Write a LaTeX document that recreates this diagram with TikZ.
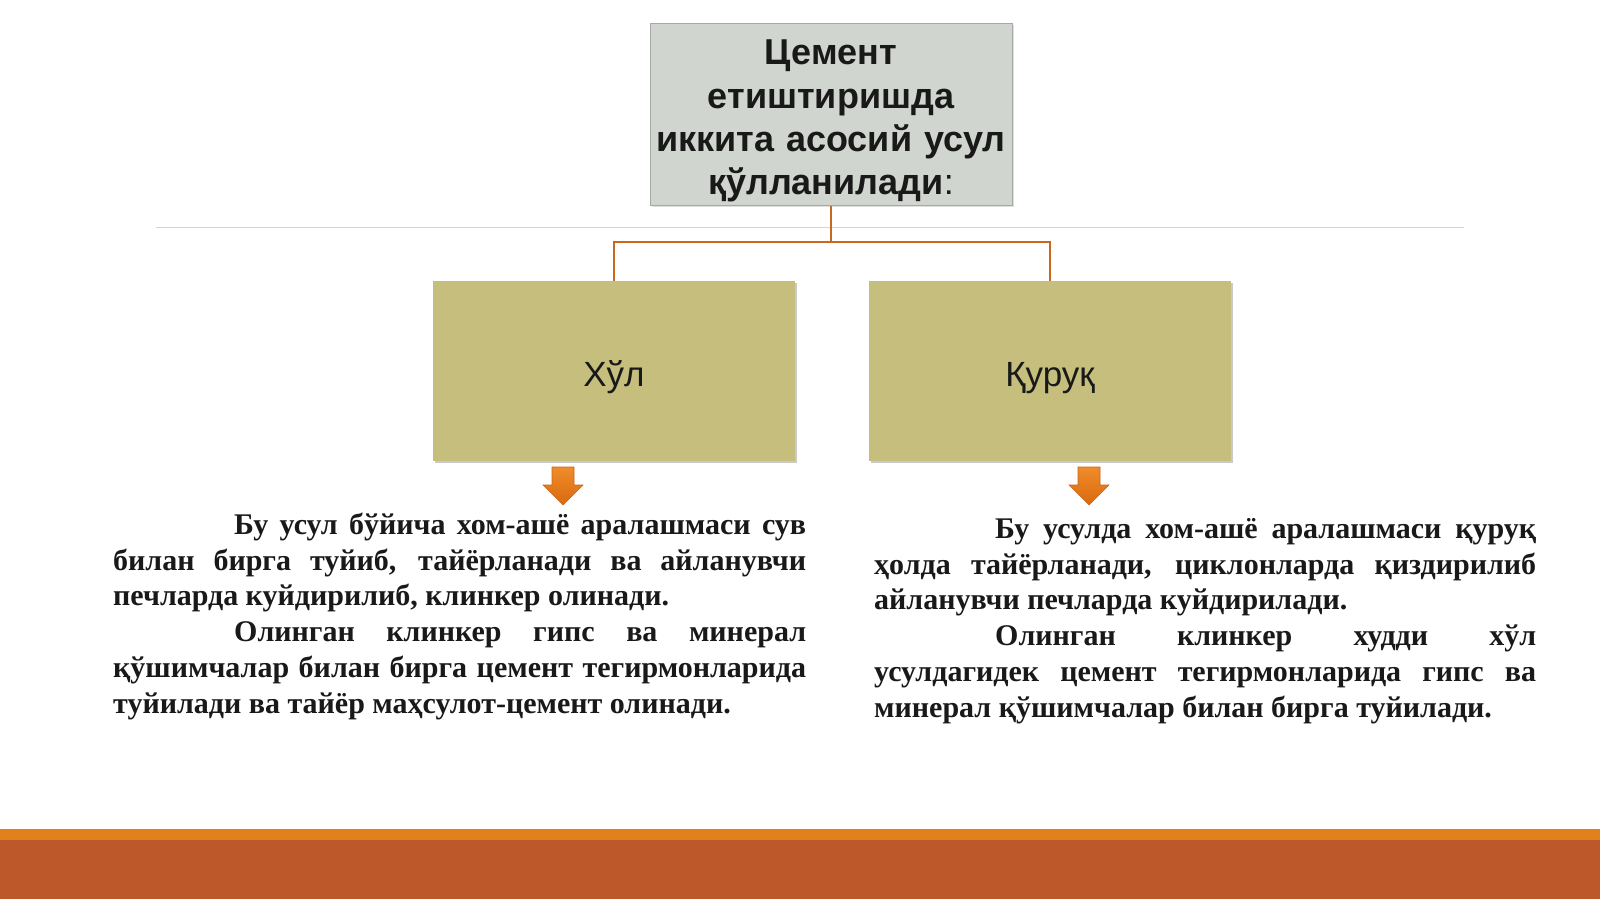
\documentclass[tikz,border=0pt]{standalone}
\usepackage{fontspec}
\setmainfont{Liberation Serif}
\newfontfamily\headfont{Liberation Sans}
\usetikzlibrary{shadows}
\definecolor{topfill}{HTML}{D1D5CF}
\definecolor{topdraw}{HTML}{A8A8A8}
\definecolor{olivebox}{HTML}{C5BE7C}
\definecolor{conn}{HTML}{C8691F}
\definecolor{arrowtop}{HTML}{F08C2A}
\definecolor{arrowbot}{HTML}{D9690F}
\definecolor{arrowdraw}{HTML}{C9651A}
\definecolor{rust}{HTML}{BC582A}
\definecolor{stripe}{HTML}{E2801C}
\definecolor{hline}{HTML}{D4D4D4}
\begin{document}
\begin{tikzpicture}[x=1bp,y=-1bp,
  titlebox/.style={draw=topdraw, line width=1bp, fill=topfill, minimum width=362bp, minimum height=181bp, inner sep=0pt, text width=362bp, align=center, text height=0bp, text depth=99bp, text=black!90, font=\headfont\bfseries\fontsize{36bp}{43.3bp}\selectfont, drop shadow={shadow xshift=1.5bp, shadow yshift=-1.5bp, opacity=0.25, fill=black!50}},
  methodbox/.style={fill=olivebox, minimum width=362bp, minimum height=180bp, inner sep=0pt, text height=30bp, text depth=0bp, text=black!90, font=\headfont\fontsize{35bp}{42bp}\selectfont, drop shadow={shadow xshift=2bp, shadow yshift=-2bp, opacity=0.35, fill=black!60}},
  connector/.style={draw=conn, line width=2bp},
  bodytext/.style={anchor=base west, inner sep=0pt, align=justify, text=black!90, font=\bfseries\fontsize{30bp}{35.7bp}\selectfont},
  orangearrow/.pic={\shadedraw[top color=arrowtop, bottom color=arrowbot, draw=arrowdraw, line width=0.6bp] (-11,0) -- (11,0) -- (11,18) -- (20,18) -- (0,38) -- (-20,18) -- (-11,18) -- cycle;}]
\useasboundingbox (0,0) rectangle (1600,899);
\fill[white] (0,0) rectangle (1600,899);
% separator line
\draw[hline, line width=1bp] (156,227) -- (1464,227);
% nodes
\node[titlebox] (title) at (831,114.5) {Цемент\\етиштиришда\\иккита асосий усул\\қўлланилади{\mdseries:}};
\node[methodbox] (wet) at (614,371) {Хўл};
\node[methodbox] (dry) at (1050,371) {Қуруқ};
% connectors
\draw[connector] (title.south) -- ++(0,36) -| (wet.north);
\draw[connector] (title.south) ++(0,36) -| (dry.north);
% arrows
\pic at (563,467) {orangearrow};
\pic at (1089,467) {orangearrow};
% texts
\node[bodytext, text width=693bp] (wettext) at (113,534.5) {\hyphenpenalty=10000 \hspace*{121bp}Бу усул бўйича хом-ашё аралашмаси сув\linebreak билан бирга туйиб, тайёрланади ва айланувчи\linebreak печларда куйдирилиб, клинкер олинади.\par\hspace*{121bp}Олинган клинкер гипс ва минерал\linebreak қўшимчалар билан бирга цемент тегирмонларида\linebreak туйилади ва тайёр маҳсулот-цемент олинади.};
\node[bodytext, text width=662bp] (drytext) at (874,538.5) {\hyphenpenalty=10000 \hspace*{121bp}Бу усулда хом-ашё аралашмаси қуруқ\linebreak ҳолда тайёрланади, циклонларда қиздирилиб\linebreak айланувчи печларда куйдирилади.\par\hspace*{121bp}Олинган клинкер худди хўл\linebreak усулдагидек цемент тегирмонларида гипс ва\linebreak минерал қўшимчалар билан бирга туйилади.};
% bottom band
\fill[rust] (0,840) rectangle (1600,899);
\fill[stripe] (0,829) rectangle (1600,840);
\end{tikzpicture}
\end{document}
